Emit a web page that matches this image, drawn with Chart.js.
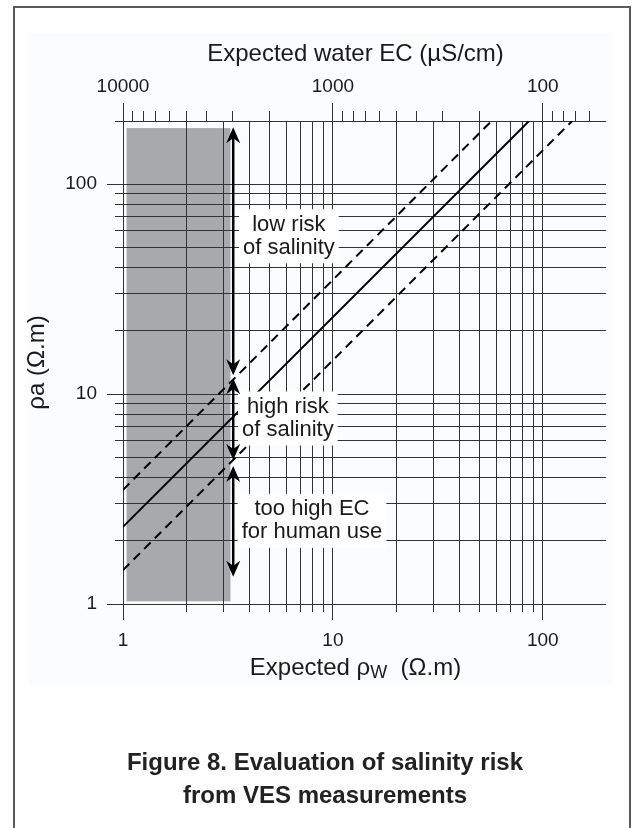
<!DOCTYPE html>
<html>
<head>
<meta charset="utf-8">
<script src="https://cdn.jsdelivr.net/npm/chart.js@4.4.0/dist/chart.umd.min.js"></script>
<style>
  body { margin: 0; background: #fff; font-family: "Liberation Sans", Arial, sans-serif; }
  #frame { position: absolute; left: 13px; top: 6px; width: 618px; height: 900px; border: 2px solid #5a5a5a; border-bottom: none; box-sizing: border-box; }
  #wrap { position: absolute; left: 0; top: 0; width: 637px; height: 828px; }
  #caption { position: absolute; left: 0; top: 745px; width: 650px; text-align: center; font-weight: bold; font-size: 24px; line-height: 33px; color: #222; }
</style>
</head>
<body>
<div id="frame"></div>
<div id="wrap"><canvas id="myChart"></canvas></div>
<div id="caption">Figure 8. Evaluation of salinity risk<br>from VES measurements</div>
<script>
// bottom axis: expected water resistivity rho_w (Ohm.m)
var xGrid = [1, 2, 3, 4, 5, 6, 7, 8, 9, 10, 20, 30, 40, 50, 60, 70, 80, 90, 100];
var xLabels = [1, 10, 100];
// left axis: apparent resistivity rho_a (Ohm.m)
var yGrid = [1, 2, 3, 4, 5, 6, 7, 8, 9, 10, 20, 30, 40, 50, 60, 70, 80, 90, 100, 200];
var yLabels = [1, 10, 100];
// top axis: expected water EC (uS/cm)
var ecTicks = [10000, 9000, 8000, 7000, 6000, 5000, 4000, 3000, 2000, 1000, 900, 800, 700, 600, 500, 400, 300, 200, 100, 90, 80, 70, 60];
var ecLabels = [10000, 1000, 100];

// rho_a against rho_w lines (start and end)
var upperX = [1, 57];
var upperY = [3.5, 200];
var middleX = [1, 86];
var middleY = [2.33, 200];
var lowerX = [1, 138];
var lowerY = [1.45, 200];

// shaded zone (water EC above ~3000 uS/cm)
var shadeX = [1.04, 3.25];
var shadeY = [1.03, 185];

// salinity risk zones along the arrows (rho_a limits)
var zoneNames = [["low risk", "of salinity"], ["high risk", "of salinity"], ["too high EC", "for human use"]];
var zoneTop = [187, 11.9, 4.55];
var zoneBottom = [12.3, 4.85, 1.35];
var arrowX = 3.35;

// where the zone labels sit (rho_w, rho_a)
var labelAt = [[6.17, 56.5], [6.1, 7.65], [7.95, 2.49]];

var FONT = '"Liberation Sans", Arial, sans-serif';
var GRID = '#333';

function pts(xs, ys) {
    var out = [];
    for (var i = 0; i < xs.length; i++) out.push({x: xs[i], y: ys[i]});
    return out;
}

function line(ctx, x1, y1, x2, y2) {
    ctx.beginPath();
    ctx.moveTo(x1, y1);
    ctx.lineTo(x2, y2);
    ctx.stroke();
}

function crisp(p) { return Math.round(p - 0.5) + 0.5; }

// background tint and grey zone, under the grid
var backPlugin = {
    id: 'backPlugin',
    beforeDraw: function(chart) {
        var ctx = chart.ctx, x = chart.scales.x, y = chart.scales.y;
        ctx.save();
        ctx.fillStyle = '#fbfcfd';
        ctx.fillRect(29, 33, 583, 653);
        ctx.fillStyle = '#a7a9ac';
        var l = x.getPixelForValue(shadeX[0]), r = x.getPixelForValue(shadeX[1]);
        var t = y.getPixelForValue(shadeY[1]), b = y.getPixelForValue(shadeY[0]);
        ctx.fillRect(l, t, r - l, b - t);
        ctx.restore();
    }
};

// zone labels with white boxes
var labelPlugin = {
    id: 'labelPlugin',
    afterDatasetsDraw: function(chart) {
        var ctx = chart.ctx, x = chart.scales.x, y = chart.scales.y;
        ctx.save();
        ctx.font = '22px ' + FONT;
        ctx.textAlign = 'center';
        ctx.textBaseline = 'middle';
        for (var i = 0; i < zoneNames.length; i++) {
            var cx = x.getPixelForValue(labelAt[i][0]);
            var cy = y.getPixelForValue(labelAt[i][1]);
            var w = 0;
            zoneNames[i].forEach(function(s) { w = Math.max(w, ctx.measureText(s).width); });
            ctx.fillStyle = '#fff';
            ctx.fillRect(cx - w / 2 - 4, cy - 27, w + 8, 54);
            ctx.fillStyle = '#1a1a1a';
            ctx.fillText(zoneNames[i][0], cx, cy - 11.5);
            ctx.fillText(zoneNames[i][1], cx, cy + 11.5);
        }
        ctx.restore();
    }
};

function arrowHead(ctx, px, py, dir) {
    // dir = -1 points up, 1 points down
    ctx.beginPath();
    ctx.moveTo(px, py);
    ctx.lineTo(px - 7, py - dir * 16);
    ctx.lineTo(px, py - dir * 11);
    ctx.lineTo(px + 7, py - dir * 16);
    ctx.closePath();
    ctx.fill();
}

// tick marks outside the plot, axis titles, arrows
var overPlugin = {
    id: 'overPlugin',
    afterDraw: function(chart) {
        var ctx = chart.ctx, a = chart.chartArea, sc = chart.scales;
        ctx.save();
        ctx.strokeStyle = GRID;
        ctx.lineWidth = 1;
        xGrid.forEach(function(v) {
            var p = crisp(sc.x.getPixelForValue(v));
            line(ctx, p, a.bottom, p, a.bottom + (xLabels.indexOf(v) >= 0 ? 16 : 8));
        });
        yGrid.forEach(function(v) {
            var p = crisp(sc.y.getPixelForValue(v));
            line(ctx, a.left - (yLabels.indexOf(v) >= 0 ? 16 : 8), p, a.left, p);
        });
        ecTicks.forEach(function(v) {
            var p = crisp(sc.ec.getPixelForValue(v));
            line(ctx, p, a.top - (ecLabels.indexOf(v) >= 0 ? 18 : 10), p, a.top);
        });

        // axis titles
        var mid = (a.left + a.right) / 2 - 9;
        ctx.fillStyle = '#1a1a1a';
        ctx.textBaseline = 'alphabetic';
        ctx.textAlign = 'center';
        ctx.font = '24px ' + FONT;
        ctx.fillText('Expected water EC (\u00b5S/cm)', mid, a.top - 60);

        var s1 = 'Expected \u03c1', s2 = 'W', s3 = '  (\u03a9.m)';
        ctx.font = '24px ' + FONT;
        var w1 = ctx.measureText(s1).width, w3 = ctx.measureText(s3).width;
        ctx.font = '18px ' + FONT;
        var w2 = ctx.measureText(s2).width;
        var x0 = mid - (w1 + w2 + w3) / 2, base = a.bottom + 71;
        ctx.textAlign = 'left';
        ctx.font = '24px ' + FONT;
        ctx.fillText(s1, x0, base);
        ctx.fillText(s3, x0 + w1 + w2, base);
        ctx.font = '18px ' + FONT;
        ctx.fillText(s2, x0 + w1, base + 3);

        // risk arrows
        var ax = sc.x.getPixelForValue(arrowX);
        ctx.strokeStyle = '#000';
        ctx.fillStyle = '#000';
        ctx.lineWidth = 2.5;
        for (var i = 0; i < zoneTop.length; i++) {
            var t = sc.y.getPixelForValue(zoneTop[i]);
            var b = sc.y.getPixelForValue(zoneBottom[i]);
            line(ctx, ax, t + 10, ax, b - 10);
            arrowHead(ctx, ax, t, -1);
            arrowHead(ctx, ax, b, 1);
        }
        ctx.restore();
    }
};

var ctx = document.getElementById('myChart').getContext('2d');
var chart = new Chart(ctx, {
    type: 'scatter',
    data: {
        datasets: [
            { data: pts(upperX, upperY), showLine: true, borderColor: '#000', borderWidth: 2, borderDash: [9, 6], pointRadius: 0 },
            { data: pts(middleX, middleY), showLine: true, borderColor: '#000', borderWidth: 2, pointRadius: 0 },
            { data: pts(lowerX, lowerY), showLine: true, borderColor: '#000', borderWidth: 2, borderDash: [9, 6], pointRadius: 0 }
        ]
    },
    options: {
        responsive: true,
        maintainAspectRatio: false,
        animation: false,
        layout: { padding: { left: 0, right: 31, top: 0, bottom: 0 } },
        plugins: { legend: { display: false }, tooltip: { enabled: false } },
        scales: {
            x: {
                type: 'logarithmic', position: 'bottom', min: 1, max: 200,
                afterBuildTicks: function(s) { s.ticks = xGrid.map(function(v) { return {value: v}; }); },
                afterFit: function(s) { s.height = 224; },
                grid: { color: GRID, lineWidth: 1, drawTicks: false },
                border: { display: false },
                ticks: {
                    autoSkip: false, maxRotation: 0, padding: 25, color: '#1a1a1a',
                    font: { size: 19, family: FONT },
                    callback: function(v) { return xLabels.indexOf(v) >= 0 ? String(v) : ''; }
                }
            },
            ec: {
                type: 'logarithmic', position: 'top', axis: 'x', reverse: true, min: 50, max: 10000,
                afterBuildTicks: function(s) { s.ticks = ecTicks.map(function(v) { return {value: v}; }); },
                afterFit: function(s) { s.height = 121; },
                grid: { drawOnChartArea: false, drawTicks: false },
                border: { display: false },
                ticks: {
                    autoSkip: false, maxRotation: 0, padding: 23, color: '#1a1a1a',
                    font: { size: 19, family: FONT },
                    callback: function(v) { return ecLabels.indexOf(v) >= 0 ? String(v) : ''; }
                }
            },
            y: {
                type: 'logarithmic', position: 'left', min: 1, max: 200,
                afterBuildTicks: function(s) { s.ticks = yGrid.map(function(v) { return {value: v}; }); },
                afterFit: function(s) { s.width = 123; },
                grid: { color: GRID, lineWidth: 1, drawTicks: false },
                border: { display: false },
                title: { display: true, text: '\u03c1a (\u03a9.m)', color: '#1a1a1a', font: { size: 24, family: FONT }, padding: { top: 23, bottom: 0 } },
                ticks: {
                    autoSkip: false, padding: 26, color: '#1a1a1a',
                    font: { size: 19, family: FONT },
                    callback: function(v) { return yLabels.indexOf(v) >= 0 ? String(v) : ''; }
                }
            }
        }
    },
    plugins: [backPlugin, labelPlugin, overPlugin]
});
</script>
</body>
</html>
